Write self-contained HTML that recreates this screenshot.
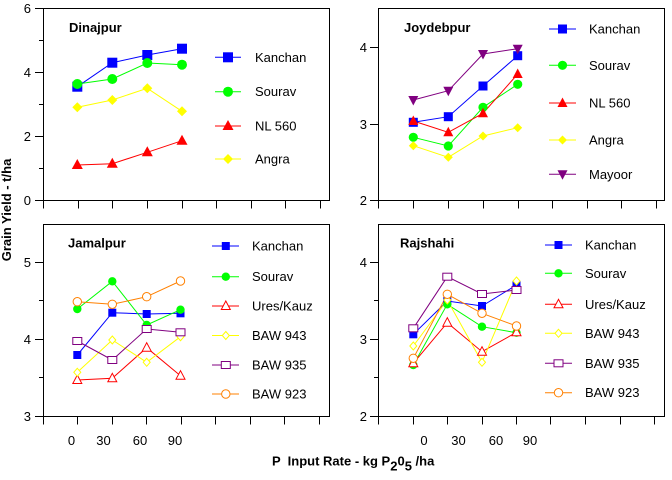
<!DOCTYPE html>
<html><head><meta charset="utf-8"><style>
html,body{margin:0;padding:0;background:#fff;}
svg{display:block;}
text{font-family:"Liberation Sans",Arial,sans-serif;fill:#000;}
.t{font-size:13px;}
.b{font-size:13px;font-weight:bold;}
.ax{stroke:#000;stroke-width:1;fill:none;shape-rendering:crispEdges;}
.ln{fill:none;stroke-width:1;}
</style></head><body>
<svg width="672" height="480" viewBox="0 0 672 480" xmlns="http://www.w3.org/2000/svg">
<defs>
<rect id="S10" x="-5" y="-5" width="10" height="10"/>
<circle id="C10" r="5"/>
<polygon id="T10" points="0,-6 -5.5,4 5.5,4"/>
<polygon id="D10" points="0,-5 5,0 0,5 -5,0"/>
<rect id="S9" x="-4.5" y="-4.5" width="9" height="9"/>
<circle id="C9" r="4.6"/>
<polygon id="T9" points="0,-5.5 -5,4 5,4"/>
<polygon id="D9" points="0,-4.5 4.5,0 0,4.5 -4.5,0"/>
<polygon id="V9" points="-5,-4 5,-4 0,5.5"/>
<rect id="S8" x="-4" y="-4" width="8" height="8"/>
<circle id="C8" r="4.2"/>
<polygon id="T8" points="0,-5 -4.5,3.5 4.5,3.5"/>
<polygon id="D7" points="0,-4 3.5,0 0,4 -3.5,0"/>
<rect id="R8" x="-4.5" y="-3.5" width="9" height="7"/>
</defs>

<!-- ===== Top-left: Dinajpur ===== -->
<g class="ax">
<rect x="43.5" y="8.5" width="286" height="192"/>
<path d="M43.5 200.5V208.5 M78.5 200.5V208.5 M112.5 200.5V208.5 M147.5 200.5V208.5 M182.5 200.5V208.5 M216.5 200.5V208.5 M251.5 200.5V208.5 M285.5 200.5V208.5 M320.5 200.5V208.5"/>
<path d="M35 8.5H43.5 M35 72.5H43.5 M35 136.5H43.5 M35 200.5H43.5 M39 40.5H43.5 M39 104.5H43.5 M39 168.5H43.5"/>
</g>
<g class="t" text-anchor="end">
<text x="31" y="13">6</text><text x="31" y="77">4</text><text x="31" y="141">2</text><text x="31" y="205">0</text>
</g>
<text class="b" x="69" y="32">Dinajpur</text>
<polyline class="ln" stroke="#0000ff" points="77.3,86.7 112.3,62.7 147.3,55 182,48.7"/>
<polyline class="ln" stroke="#00ff00" points="77.3,84 112.3,79 147.3,63 182,64.7"/>
<polyline class="ln" stroke="#ff0000" points="77.3,165 112.3,163.7 147.3,152.3 182,140.7"/>
<polyline class="ln" stroke="#ffff00" points="77.3,107.3 112.3,100 147.3,88.3 182,111.3"/>
<g fill="#0000ff"><use href="#S10" x="77.3" y="86.7"/><use href="#S10" x="112.3" y="62.7"/><use href="#S10" x="147.3" y="55"/><use href="#S10" x="182" y="48.7"/></g>
<g fill="#00ff00"><use href="#C10" x="77.3" y="84"/><use href="#C10" x="112.3" y="79"/><use href="#C10" x="147.3" y="63"/><use href="#C10" x="182" y="64.7"/></g>
<g fill="#ff0000"><use href="#T10" x="77.3" y="165"/><use href="#T10" x="112.3" y="163.7"/><use href="#T10" x="147.3" y="152.3"/><use href="#T10" x="182" y="140.7"/></g>
<g fill="#ffff00"><use href="#D10" x="77.3" y="107.3"/><use href="#D10" x="112.3" y="100"/><use href="#D10" x="147.3" y="88.3"/><use href="#D10" x="182" y="111.3"/></g>
<!-- legend -->
<line x1="215" y1="57.3" x2="241" y2="57.3" stroke="#0000ff"/><use href="#S10" x="228" y="57.3" fill="#0000ff"/>
<line x1="215" y1="91.7" x2="241" y2="91.7" stroke="#00ff00"/><use href="#C10" x="228" y="91.7" fill="#00ff00"/>
<line x1="215" y1="126" x2="241" y2="126" stroke="#ff0000"/><use href="#T10" x="228" y="126" fill="#ff0000"/>
<line x1="215" y1="159" x2="241" y2="159" stroke="#ffff00"/><use href="#D10" x="228" y="159" fill="#ffff00"/>
<g class="t"><text x="255" y="61.8">Kanchan</text><text x="255" y="96.2">Sourav</text><text x="255" y="130.5">NL 560</text><text x="255" y="163.5">Angra</text></g>

<!-- ===== Top-right: Joydebpur ===== -->
<g class="ax">
<rect x="378.5" y="8.5" width="286" height="192"/>
<path d="M378.5 200.5V208.5 M413.5 200.5V208.5 M448.5 200.5V208.5 M483.5 200.5V208.5 M518.5 200.5V208.5 M552.5 200.5V208.5 M587.5 200.5V208.5 M621.5 200.5V208.5 M656.5 200.5V208.5"/>
<path d="M370 47.5H378.5 M370 124.5H378.5 M370 200.5H378.5"/>
</g>
<g class="t" text-anchor="end">
<text x="367" y="52">4</text><text x="367" y="129">3</text><text x="367" y="205">2</text>
</g>
<text class="b" x="404" y="32">Joydebpur</text>
<polyline class="ln" stroke="#0000ff" points="413.3,122.3 448.3,116.7 483,86 517.7,55.7"/>
<polyline class="ln" stroke="#00ff00" points="413.3,137.3 448.3,146 483,107.3 517.7,84.3"/>
<polyline class="ln" stroke="#ff0000" points="413.3,121 448.3,132.3 483,113.3 517.7,74"/>
<polyline class="ln" stroke="#ffff00" points="413.3,145.7 448.3,157.3 483,136 517.7,127.7"/>
<polyline class="ln" stroke="#800080" points="413.3,100 448.3,90.7 483,54 517.7,48.7"/>
<g fill="#0000ff"><use href="#S9" x="413.3" y="122.3"/><use href="#S9" x="448.3" y="116.7"/><use href="#S9" x="483" y="86"/><use href="#S9" x="517.7" y="55.7"/></g>
<g fill="#00ff00"><use href="#C9" x="413.3" y="137.3"/><use href="#C9" x="448.3" y="146"/><use href="#C9" x="483" y="107.3"/><use href="#C9" x="517.7" y="84.3"/></g>
<g fill="#ff0000"><use href="#T9" x="413.3" y="121"/><use href="#T9" x="448.3" y="132.3"/><use href="#T9" x="483" y="113.3"/><use href="#T9" x="517.7" y="74"/></g>
<g fill="#ffff00"><use href="#D9" x="413.3" y="145.7"/><use href="#D9" x="448.3" y="157.3"/><use href="#D9" x="483" y="136"/><use href="#D9" x="517.7" y="127.7"/></g>
<g fill="#800080"><use href="#V9" x="413.3" y="100"/><use href="#V9" x="448.3" y="90.7"/><use href="#V9" x="483" y="54"/><use href="#V9" x="517.7" y="48.7"/></g>
<line x1="549" y1="29" x2="576" y2="29" stroke="#0000ff"/><use href="#S9" x="562.5" y="29" fill="#0000ff"/>
<line x1="549" y1="65.3" x2="576" y2="65.3" stroke="#00ff00"/><use href="#C9" x="562.5" y="65.3" fill="#00ff00"/>
<line x1="549" y1="103" x2="576" y2="103" stroke="#ff0000"/><use href="#T9" x="562.5" y="103" fill="#ff0000"/>
<line x1="549" y1="140" x2="576" y2="140" stroke="#ffff00"/><use href="#D9" x="562.5" y="140" fill="#ffff00"/>
<line x1="549" y1="174.3" x2="576" y2="174.3" stroke="#800080"/><use href="#V9" x="562.5" y="174.3" fill="#800080"/>
<g class="t"><text x="589" y="33.5">Kanchan</text><text x="589" y="69.8">Sourav</text><text x="589" y="107.5">NL 560</text><text x="589" y="144.5">Angra</text><text x="589" y="178.8">Mayoor</text></g>

<!-- ===== Bottom-left: Jamalpur ===== -->
<g class="ax">
<rect x="43.5" y="224.5" width="286" height="192"/>
<path d="M43.5 416.5V424.5 M77.5 416.5V424.5 M112.5 416.5V424.5 M146.5 416.5V424.5 M181.5 416.5V424.5 M215.5 416.5V424.5 M250.5 416.5V424.5 M284.5 416.5V424.5 M319.5 416.5V424.5"/>
<path d="M35 262.5H43.5 M35 339.5H43.5 M35 416.5H43.5 M39 300.5H43.5 M39 377.5H43.5"/>
</g>
<g class="t" text-anchor="end">
<text x="31" y="267">5</text><text x="31" y="344">4</text><text x="31" y="421">3</text>
</g>
<text class="b" x="68" y="247.5">Jamalpur</text>
<polyline class="ln" stroke="#0000ff" points="77.3,355 112.3,312.7 146.7,314 180.5,313.3"/>
<polyline class="ln" stroke="#00ff00" points="77.3,309 112.3,281.3 146.7,325 180.5,309.7"/>
<polyline class="ln" stroke="#ff0000" points="77.3,380 112.3,378.3 146.7,347.7 180.5,375.7"/>
<polyline class="ln" stroke="#ffff00" points="77.3,372.3 112.3,340 146.7,362.3 180.5,336.7"/>
<polyline class="ln" stroke="#800080" points="77.3,341 112.3,360 146.7,329 180.5,332.3"/>
<polyline class="ln" stroke="#ff8000" points="77.3,301.7 112.3,304.3 146.7,296.7 180.5,281"/>
<g fill="#0000ff"><use href="#S8" x="77.3" y="355"/><use href="#S8" x="112.3" y="312.7"/><use href="#S8" x="146.7" y="314"/><use href="#S8" x="180.5" y="313.3"/></g>
<g fill="#00ff00"><use href="#C8" x="77.3" y="309"/><use href="#C8" x="112.3" y="281.3"/><use href="#C8" x="146.7" y="325"/><use href="#C8" x="180.5" y="309.7"/></g>
<g fill="#fff" stroke="#ff0000"><use href="#T8" x="77.3" y="380"/><use href="#T8" x="112.3" y="378.3"/><use href="#T8" x="146.7" y="347.7"/><use href="#T8" x="180.5" y="375.7"/></g>
<g fill="#fff" stroke="#ffff00"><use href="#D7" x="77.3" y="372.3"/><use href="#D7" x="112.3" y="340"/><use href="#D7" x="146.7" y="362.3"/><use href="#D7" x="180.5" y="336.7"/></g>
<g fill="#fff" stroke="#800080"><use href="#R8" x="77.3" y="341"/><use href="#R8" x="112.3" y="360"/><use href="#R8" x="146.7" y="329"/><use href="#R8" x="180.5" y="332.3"/></g>
<g fill="#fff" stroke="#ff8000"><use href="#C8" x="77.3" y="301.7"/><use href="#C8" x="112.3" y="304.3"/><use href="#C8" x="146.7" y="296.7"/><use href="#C8" x="180.5" y="281"/></g>
<line x1="212" y1="246" x2="239" y2="246" stroke="#0000ff"/><use href="#S8" x="225.8" y="246" fill="#0000ff"/>
<line x1="212" y1="276.7" x2="239" y2="276.7" stroke="#00ff00"/><use href="#C8" x="225.8" y="276.7" fill="#00ff00"/>
<line x1="212" y1="306" x2="239" y2="306" stroke="#ff0000"/><use href="#T8" x="225.8" y="306" fill="#fff" stroke="#ff0000"/>
<line x1="212" y1="335.5" x2="239" y2="335.5" stroke="#ffff00"/><use href="#D7" x="225.8" y="335.5" fill="#fff" stroke="#ffff00"/>
<line x1="212" y1="365" x2="239" y2="365" stroke="#800080"/><use href="#R8" x="225.8" y="365" fill="#fff" stroke="#800080"/>
<line x1="212" y1="394" x2="239" y2="394" stroke="#ff8000"/><use href="#C8" x="225.8" y="394" fill="#fff" stroke="#ff8000"/>
<g class="t"><text x="252" y="250.5">Kanchan</text><text x="252" y="281.2">Sourav</text><text x="252" y="310.5">Ures/Kauz</text><text x="252" y="340">BAW 943</text><text x="252" y="369.5">BAW 935</text><text x="252" y="398.5">BAW 923</text></g>
<g class="t" text-anchor="middle">
<text x="71.5" y="445">0</text><text x="103.5" y="445">30</text><text x="140" y="445">60</text><text x="175" y="445">90</text>
</g>

<!-- ===== Bottom-right: Rajshahi ===== -->
<g class="ax">
<rect x="378.5" y="224.5" width="286" height="192"/>
<path d="M378.5 416.5V424.5 M413.5 416.5V424.5 M447.5 416.5V424.5 M482.5 416.5V424.5 M516.5 416.5V424.5 M550.5 416.5V424.5 M585.5 416.5V424.5 M620.5 416.5V424.5 M654.5 416.5V424.5"/>
<path d="M370 262.5H378.5 M370 339.5H378.5 M370 416.5H378.5 M374 300.5H378.5 M374 377.5H378.5"/>
</g>
<g class="t" text-anchor="end">
<text x="367" y="267">4</text><text x="367" y="344">3</text><text x="367" y="421">2</text>
</g>
<text class="b" x="400" y="247.5">Rajshahi</text>
<polyline class="ln" stroke="#0000ff" points="413.3,334.3 447.3,301 482,306 516.5,285"/>
<polyline class="ln" stroke="#00ff00" points="413.3,365 447.3,304.3 482,326.7 516.5,332.7"/>
<polyline class="ln" stroke="#ff0000" points="413.3,363.3 447.3,322.7 482,351.7 516.5,332.3"/>
<polyline class="ln" stroke="#ffff00" points="413.3,346 447.3,300 482,362.3 516.5,281"/>
<polyline class="ln" stroke="#800080" points="413.3,328.3 447.3,276.7 482,294 516.5,290"/>
<polyline class="ln" stroke="#ff8000" points="413.3,358.3 447.3,294.3 482,313.3 516.5,326"/>
<g fill="#0000ff"><use href="#S8" x="413.3" y="334.3"/><use href="#S8" x="447.3" y="301"/><use href="#S8" x="482" y="306"/><use href="#S8" x="516.5" y="285"/></g>
<g fill="#00ff00"><use href="#C8" x="413.3" y="365"/><use href="#C8" x="447.3" y="304.3"/><use href="#C8" x="482" y="326.7"/><use href="#C8" x="516.5" y="332.7"/></g>
<g fill="#fff" stroke="#ff0000"><use href="#T8" x="413.3" y="363.3"/><use href="#T8" x="447.3" y="322.7"/><use href="#T8" x="482" y="351.7"/><use href="#T8" x="516.5" y="332.3"/></g>
<g fill="#fff" stroke="#ffff00"><use href="#D7" x="413.3" y="346"/><use href="#D7" x="447.3" y="300"/><use href="#D7" x="482" y="362.3"/><use href="#D7" x="516.5" y="281"/></g>
<g fill="#fff" stroke="#800080"><use href="#R8" x="413.3" y="328.3"/><use href="#R8" x="447.3" y="276.7"/><use href="#R8" x="482" y="294"/><use href="#R8" x="516.5" y="290"/></g>
<g fill="#fff" stroke="#ff8000"><use href="#C8" x="413.3" y="358.3"/><use href="#C8" x="447.3" y="294.3"/><use href="#C8" x="482" y="313.3"/><use href="#C8" x="516.5" y="326"/></g>
<line x1="545" y1="245" x2="572" y2="245" stroke="#0000ff"/><use href="#S8" x="558.5" y="245" fill="#0000ff"/>
<line x1="545" y1="273.3" x2="572" y2="273.3" stroke="#00ff00"/><use href="#C8" x="558.5" y="273.3" fill="#00ff00"/>
<line x1="545" y1="304.3" x2="572" y2="304.3" stroke="#ff0000"/><use href="#T8" x="558.5" y="304.3" fill="#fff" stroke="#ff0000"/>
<line x1="545" y1="333.3" x2="572" y2="333.3" stroke="#ffff00"/><use href="#D7" x="558.5" y="333.3" fill="#fff" stroke="#ffff00"/>
<line x1="545" y1="363.3" x2="572" y2="363.3" stroke="#800080"/><use href="#R8" x="558.5" y="363.3" fill="#fff" stroke="#800080"/>
<line x1="545" y1="392.7" x2="572" y2="392.7" stroke="#ff8000"/><use href="#C8" x="558.5" y="392.7" fill="#fff" stroke="#ff8000"/>
<g class="t"><text x="585" y="249.5">Kanchan</text><text x="585" y="277.8">Sourav</text><text x="585" y="308.8">Ures/Kauz</text><text x="585" y="337.8">BAW 943</text><text x="585" y="367.8">BAW 935</text><text x="585" y="397.2">BAW 923</text></g>
<g class="t" text-anchor="middle">
<text x="424" y="445">0</text><text x="458.5" y="445">30</text><text x="496" y="445">60</text><text x="530" y="445">90</text>
</g>

<!-- Axis titles -->
<text class="b" font-size="12.5" transform="translate(11,210) rotate(-90)" text-anchor="middle">Grain Yield - t/ha</text>
<text class="b" font-size="12" x="272" y="465.5" xml:space="preserve">P  Input Rate - kg P<tspan dy="5" font-size="13">2</tspan><tspan dy="-5">0</tspan><tspan dy="5" font-size="13">5</tspan><tspan dy="-5"> /ha</tspan></text>
</svg>
</body></html>
